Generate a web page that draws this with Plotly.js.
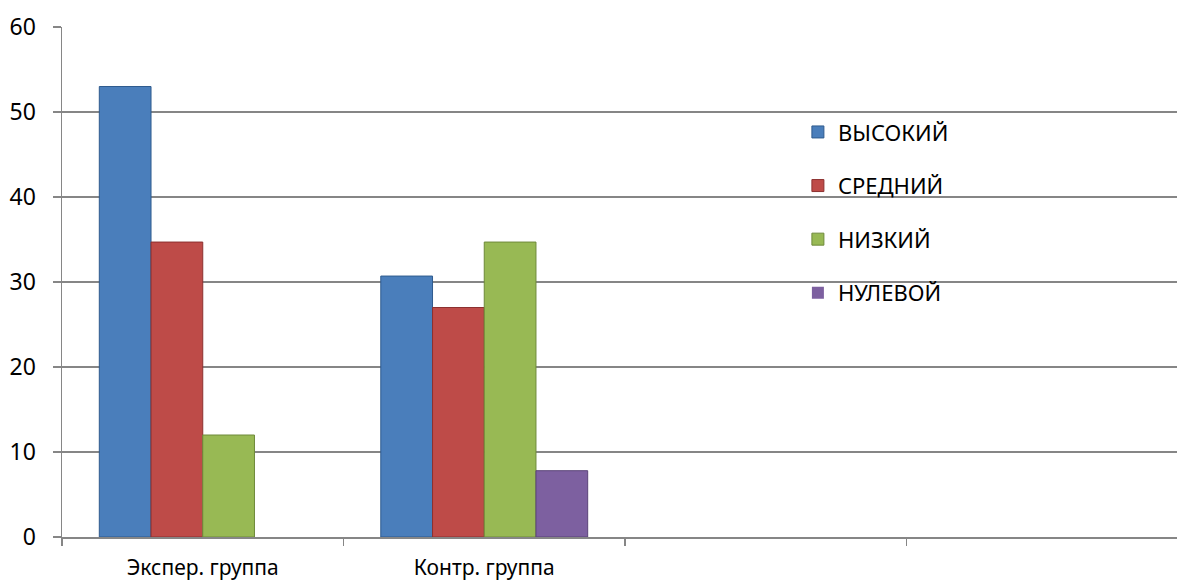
<!DOCTYPE html>
<html>
<head>
<meta charset="utf-8">
<script src="https://cdn.plot.ly/plotly-3.0.1.min.js"></script>
<style>html,body{margin:0;padding:0;background:#fff;}#chart{width:1177px;height:582px;}</style>
</head>
<body>
<div id="chart"></div>
<script>
// categories: two labelled groups plus two empty slots on the right
const categories = ['Экспер. группа', 'Контр. группа', 'c3', 'c4'];
const categoryLabels = ['Экспер. группа', 'Контр. группа'];
const seriesNames = ['ВЫСОКИЙ', 'СРЕДНИЙ', 'НИЗКИЙ', 'НУЛЕВОЙ'];
const vysokiy = [53, 30.7, null, null];
const sredniy = [34.7, 27, null, null];
const nizkiy  = [12, 34.7, null, null];
const nulevoy = [0, 7.8, null, null];
const yTicks = [0, 10, 20, 30, 40, 50, 60];
const xBoundaryTicks = [-0.5, 0.5, 1.5, 2.5, 3.5];

const seriesValues = [vysokiy, sredniy, nizkiy, nulevoy];
const fills = ['#4a7ebb', '#be4b48', '#98b954', '#7d60a0'];
const edges = ['#2f5b8e', '#8c3130', '#6f8a3a', '#5a4378'];

const font = "'Noto Sans', 'DejaVu Sans', sans-serif";

const traces = seriesNames.map((name, i) => ({
  type: 'bar',
  name: name,
  x: categories,
  y: seriesValues[i],
  legendgroup: 'g' + i,
  marker: {
    color: fills[i],
    line: { color: edges[i], width: seriesValues[i].map(v => (v ? 1 : 0)) }
  },
  hoverinfo: 'skip'
}));

// invisible helper trace so the boundary-tick axis is drawn
traces.push({
  type: 'scatter',
  mode: 'markers',
  x: xBoundaryTicks,
  y: xBoundaryTicks.map(() => null),
  xaxis: 'x2',
  yaxis: 'y',
  showlegend: false,
  hoverinfo: 'skip'
});

const layout = {
  width: 1177,
  height: 582,
  autosize: false,
  margin: { l: 62, r: 0, t: 27, b: 45, pad: 0 },
  paper_bgcolor: '#ffffff',
  plot_bgcolor: '#ffffff',
  font: { family: font, color: '#000000', size: 22 },
  barmode: 'group',
  bargap: 0.265,
  bargroupgap: 0,
  showlegend: true,
  legend: {
    x: 0.66, xanchor: 'left',
    y: 0.835, yanchor: 'top',
    bgcolor: 'rgba(0,0,0,0)',
    font: { family: font, size: 22, color: '#000000' },
    tracegroupgap: 22,
    itemclick: false
  },
  xaxis: {
    type: 'category',
    categoryorder: 'array',
    categoryarray: categories,
    range: [-0.5, 3.461],
    tickmode: 'array',
    tickvals: categoryLabels,
    ticktext: categoryLabels,
    showgrid: false,
    showline: true,
    linecolor: '#868686',
    linewidth: 1.5,
    ticks: '',
    ticklabelstandoff: 11,
    tickfont: { family: font, size: 21, color: '#000000' },
    fixedrange: true
  },
  xaxis2: {
    overlaying: 'x',
    anchor: 'y',
    side: 'bottom',
    range: [-0.5, 3.461],
    tickmode: 'array',
    tickvals: xBoundaryTicks,
    showticklabels: false,
    showgrid: false,
    zeroline: false,
    showline: false,
    ticks: 'outside',
    ticklen: 8,
    tickwidth: 1.5,
    tickcolor: '#868686',
    fixedrange: true
  },
  yaxis: {
    range: [0, 60],
    tickmode: 'array',
    tickvals: yTicks,
    ticktext: yTicks.map(String),
    showgrid: true,
    gridcolor: '#868686',
    gridwidth: 1.5,
    zeroline: false,
    showline: true,
    linecolor: '#868686',
    linewidth: 1.5,
    ticks: 'outside',
    ticklen: 8,
    tickwidth: 1.5,
    tickcolor: '#868686',
    ticklabelstandoff: 12,
    tickfont: { family: font, size: 23, color: '#000000' },
    fixedrange: true
  }
};

Plotly.newPlot('chart', traces, layout, { staticPlot: true, displayModeBar: false });
</script>
</body>
</html>
